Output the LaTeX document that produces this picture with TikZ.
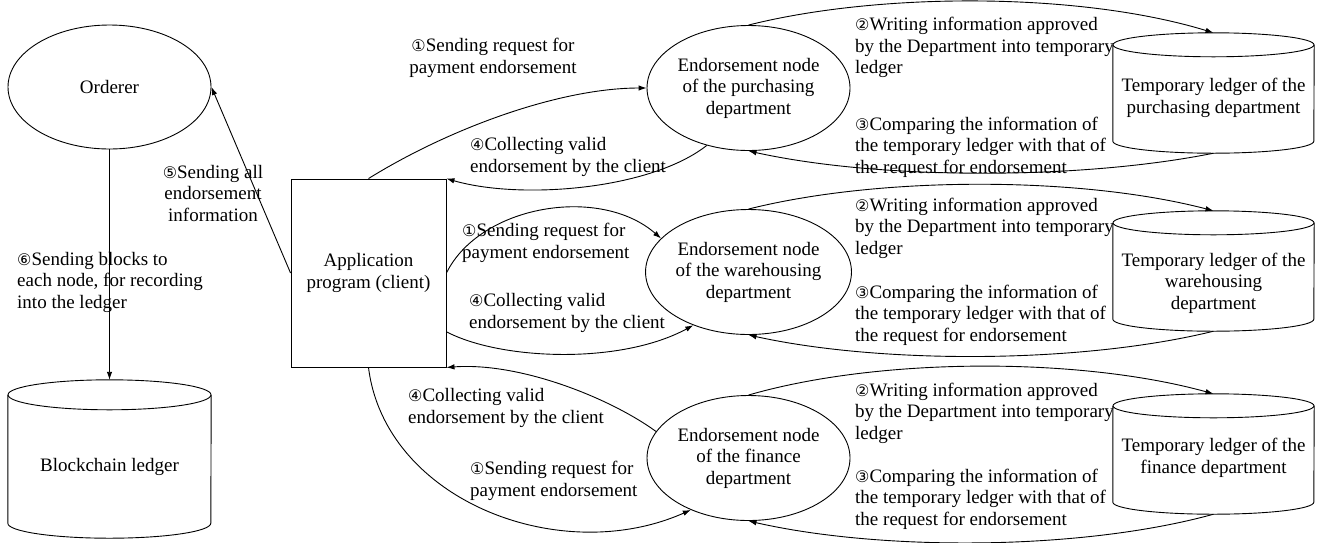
\documentclass[tikz,border=0pt]{standalone}
\usepackage{fontspec}
\setmainfont{Liberation Serif}
\newfontfamily\circfont{DejaVu Sans}
\usetikzlibrary{shapes.geometric,arrows.meta}
% circled step numbers
\newcommand\cnum[1]{{\circfont\fontsize{16}{16}\selectfont #1}}
% cylinder outline drawn around a plain rectangle node: name, x radius, y radius
\newcommand\cylout[3]{%
  \draw[line width=0.9pt] ([yshift=-#3]#1.north) ellipse [x radius=#2, y radius=#3];
  \draw[line width=0.9pt] ([yshift=-#3]#1.north west) -- ([yshift=#3]#1.south west)
    arc [start angle=180, end angle=360, x radius=#2, y radius=#3]
    -- ([yshift=-#3]#1.north east);
}
\begin{document}
\begin{tikzpicture}[x=1pt,y=1pt,
  every node/.style={font=\fontsize{19}{21.5}\selectfont},
  ellnode/.style={ellipse, draw, line width=0.9pt, minimum width=203pt, minimum height=125pt, inner sep=0pt, align=center},
  appbox/.style={rectangle, draw, line width=0.9pt, minimum width=155pt, minimum height=188pt, inner sep=0pt, align=center},
  cylbox/.style={rectangle, inner sep=0pt, minimum width=201pt, minimum height=120pt},
  lbl/.style={inner sep=0pt, align=left, anchor=west},
  clbl/.style={inner sep=0pt, align=center},
  arr/.style={line width=0.9pt, -{Latex[length=8pt,width=5.5pt]}}
]
\useasboundingbox (0,0) rectangle (1327,-542);

% main nodes
\node[ellnode, minimum height=124pt] (ord) at (109.5,-87) {Orderer};
\node[cylbox, minimum width=203pt, minimum height=158pt,
      label={[yshift=-8pt, inner sep=0pt]center:Blockchain ledger}] (bc) at (109.5,-459) {};
\cylout{bc}{101.5pt}{15pt}
\node[appbox] (app) at (368.5,-273) {Application\\program (client)};

\node[ellnode] (pur) at (748.5,-88) {Endorsement node\\of the purchasing\\department};
\node[ellnode] (war) at (748.5,-272) {Endorsement node\\of the warehousing\\department};
\node[ellnode] (fin) at (748.5,-458) {Endorsement node\\of the finance\\department};

\node[cylbox, label={[yshift=-5pt, inner sep=0pt, align=center]center:Temporary ledger of the\\purchasing department}] (tp) at (1213.5,-93) {};
\cylout{tp}{100.5pt}{12pt}
\node[cylbox, label={[yshift=-12pt, inner sep=0pt, align=center]center:Temporary ledger of the\\warehousing\\department}] (tw) at (1213.5,-271) {};
\cylout{tw}{100.5pt}{12pt}
\node[cylbox, label={[yshift=-4pt, inner sep=0pt, align=center]center:Temporary ledger of the\\finance department}] (tf) at (1213.5,-454) {};
\cylout{tf}{100.5pt}{12pt}

% labels
\node[clbl] (l5) at (213,-193) {\cnum{⑤}Sending all\\endorsement\\information};
\node[lbl] (l6) at (17,-282) {\cnum{⑥}Sending blocks to\\each node, for recording\\into the ledger};
\node[clbl] (l1a) at (493,-58) {\cnum{①}Sending request for\\payment endorsement};
\node[lbl] (l4a) at (470,-157) {\cnum{④}Collecting valid\\endorsement by the client};
\node[lbl] (l1b) at (462,-243) {\cnum{①}Sending request for\\payment endorsement};
\node[lbl] (l4b) at (469,-313) {\cnum{④}Collecting valid\\endorsement by the client};
\node[lbl] (l4c) at (408,-408) {\cnum{④}Collecting valid\\endorsement by the client};
\node[lbl] (l1c) at (470,-481) {\cnum{①}Sending request for\\payment endorsement};

\node[lbl] (l2a) at (855,-47.5) {\cnum{②}Writing information approved\\by the Department into temporary\\ledger};
\node[lbl] (l3a) at (855,-147) {\cnum{③}Comparing the information of\\the temporary ledger with that of\\the request for endorsement};
\node[lbl] (l2b) at (855,-228) {\cnum{②}Writing information approved\\by the Department into temporary\\ledger};
\node[lbl] (l3b) at (855,-315) {\cnum{③}Comparing the information of\\the temporary ledger with that of\\the request for endorsement};
\node[lbl] (l2c) at (855,-413) {\cnum{②}Writing information approved\\by the Department into temporary\\ledger};
\node[lbl] (l3c) at (855,-499) {\cnum{③}Comparing the information of\\the temporary ledger with that of\\the request for endorsement};

% client <-> endorsement nodes
\draw[arr] (app.north) .. controls (450,-128) and (560,-88) .. (pur.west);
\draw[arr] (pur.234) .. controls (650,-190) and (520,-200) .. (app.north east);
\draw[arr] (app.east) .. controls (480,-205) and (600,-185) .. (war.159);
\draw[arr] (app.-37.7) .. controls (500,-360) and (620,-365) .. (war.224);
\draw[arr] (fin.164) .. controls (610,-398) and (520,-362) .. (app.south east);
\draw[arr] (app.south) .. controls (385,-500) and (560,-568) .. (fin.222);

% endorsement nodes <-> temporary ledgers
\draw[arr] (pur.north) .. controls (880,8) and (1080,8) .. (tp.north);
\draw[arr] (tp.south) .. controls (1080,-180) and (880,-180) .. (pur.south);
\draw[arr] (war.north) .. controls (880,-176) and (1080,-176) .. (tw.north);
\draw[arr] (tw.south) .. controls (1080,-364) and (880,-364) .. (war.south);
\draw[arr] (fin.north) .. controls (880,-357) and (1080,-357) .. (tf.north);
\draw[arr] (tf.south) .. controls (1080,-551) and (880,-551) .. (fin.south);

% orderer and ledger
\draw[arr] (app.west) -- (ord.east);
\draw[arr] (ord.south) -- (bc.north);
\end{tikzpicture}
\end{document}
